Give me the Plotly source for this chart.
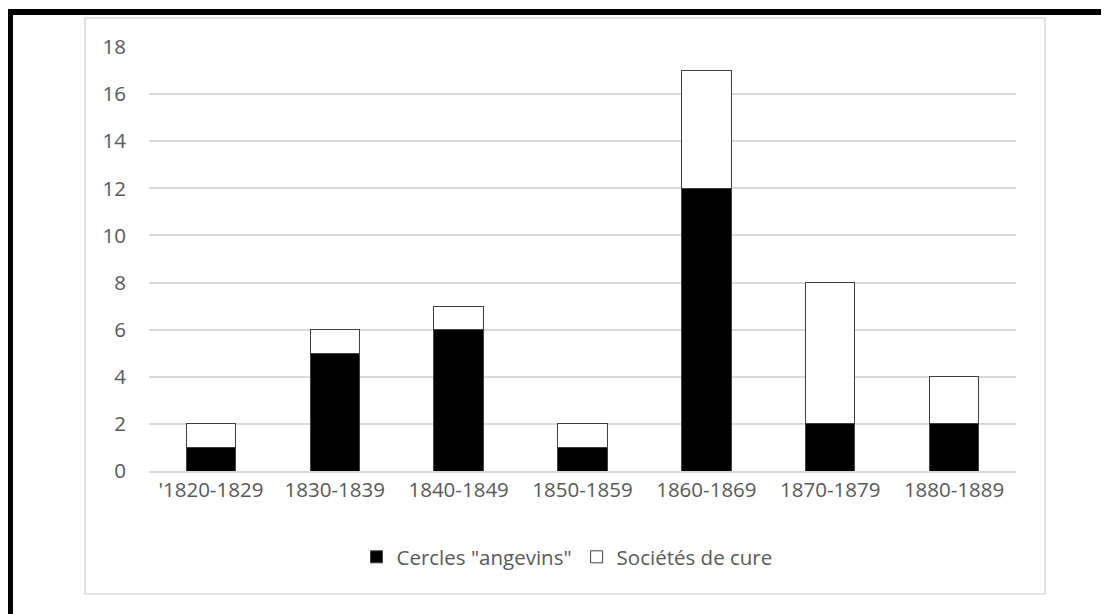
import plotly.graph_objects as go

categories = ["'1820-1829", "1830-1839", "1840-1849", "1850-1859", "1860-1869", "1870-1879", "1880-1889"]
cercles = [1, 5, 6, 1, 12, 2, 2]
societes = [1, 1, 1, 1, 5, 6, 2]
y_ticks = [0, 2, 4, 6, 8, 10, 12, 14, 16, 18]

OFF = 8  # page body margin
W, H = 1109 - OFF, 614 - OFF
L, R, T, B = 149 - OFF, 1016 - OFF, 47 - OFF, 471 - OFF

def px(x):
    return (x - OFF - L) / (R - L)

def py(y):
    return (B - (y - OFF)) / (B - T)

fig = go.Figure()
fig.add_trace(go.Bar(x=categories, y=cercles, name='Cercles "angevins"',
                     marker=dict(color="black", line=dict(color="#404040", width=1))))
fig.add_trace(go.Bar(x=categories, y=societes, name="Sociétés de cure",
                     marker=dict(color="white", line=dict(color="#404040", width=1))))

font = dict(family="Open Sans, Liberation Sans, sans-serif", size=20.5, color="#595959")

fig.update_layout(
    width=W, height=H,
    barmode="stack", bargap=0.6,
    paper_bgcolor="white", plot_bgcolor="white",
    margin=dict(l=L, r=W - R, t=T, b=H - B),
    font=font,
    showlegend=True,
    legend=dict(orientation="h", x=px(567), xanchor="center", y=py(557), yanchor="middle",
                font=dict(family="Open Sans, Liberation Sans, sans-serif", size=20.5, color="#595959"),
                itemwidth=30, traceorder="normal"),
    xaxis=dict(showgrid=False, showline=True, linecolor="#d9d9d9", linewidth=1.5,
               ticks="", tickfont=font),
    yaxis=dict(range=[0, 18], tickvals=y_ticks, showgrid=True, gridcolor="#d9d9d9", gridwidth=1.5,
               zeroline=False, showline=False, ticks="", ticklabelstandoff=22, tickfont=font),
    shapes=[
        dict(type="rect", xref="paper", yref="paper", x0=px(85), x1=px(1045), y0=py(18), y1=py(594),
             line=dict(color="#d9d9d9", width=1.5), fillcolor="rgba(0,0,0,0)", layer="below"),
        dict(type="rect", xref="paper", yref="paper", x0=px(8), x1=px(1109), y0=py(9), y1=py(15),
             line=dict(width=0), fillcolor="black"),
        dict(type="rect", xref="paper", yref="paper", x0=px(8), x1=px(13), y0=py(9), y1=py(614),
             line=dict(width=0), fillcolor="black"),
    ],
)

fig.write_html("out.html")
